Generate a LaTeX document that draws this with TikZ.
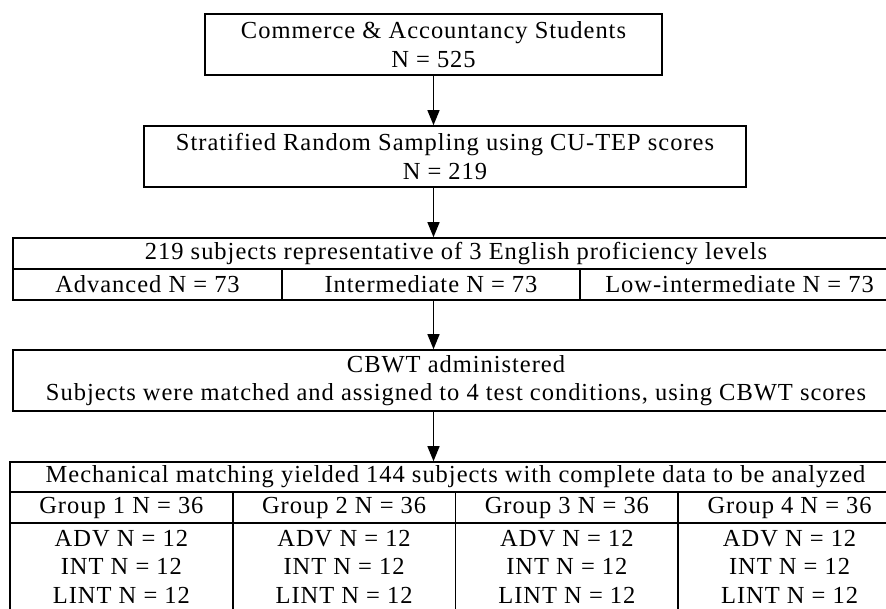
\documentclass[tikz,border=0pt]{standalone}
\usepackage{fontspec}
\setmainfont{Liberation Serif}[LetterSpace=4]
\usepackage{tikz}
\usetikzlibrary{arrows.meta,positioning,calc}

\begin{document}
\begin{tikzpicture}[x=1pt,y=-1pt,
    font=\fontsize{24.5}{28.5}\selectfont,
    box/.style={draw, line width=1.6pt, inner sep=0pt, align=center},
    flow/.style={line width=1.3pt, -{Triangle[length=15pt,width=12pt]}}]
    \useasboundingbox (0,0) rectangle (886,608);
    \clip (0,0) rectangle (886,608);
    \coordinate (spine) at (433.5,0);

    % Population and sampling
    \node[box, minimum width=457pt, minimum height=61pt] (pop) at (433.5,44.5) {Commerce \& Accountancy Students\\N = 525};
    \node[box, minimum width=602pt, minimum height=61pt] (samp) at (445,156.5) {Stratified Random Sampling using CU-TEP scores\\N = 219};

    % Proficiency levels
    \node[box, minimum width=886pt, minimum height=31pt] (lvl) at (456,253.5) {219 subjects representative of 3 English proficiency levels};
    \foreach \x/\w/\txt/\name in {147.5/269/Advanced/adv, 431/298/Intermediate/int, 739.5/319/Low-intermediate/low} {
        \node[box, minimum width=\w pt, minimum height=31pt] (\name) at (\x,284.5) {\txt{} N = 73};
    }

    % CBWT
    \node[box, minimum width=886pt, minimum height=61pt] (cbwt) at (456,380.5) {CBWT administered\\Subjects were matched and assigned to 4 test conditions, using CBWT scores};

    % Groups
    \node[box, minimum width=891pt, minimum height=30pt] (mech) at (455.5,477) {Mechanical matching yielded 144 subjects with complete data to be analyzed};
    \foreach \i/\x in {1/121.4, 2/344.1, 3/566.9, 4/789.6} {
        \node[box, minimum width=222.75pt, minimum height=31pt] (g\i) at (\x,507.5) {Group \i{} N = 36};
        \node[box, minimum width=222.75pt, minimum height=87pt] (s\i) at (\x,566.5) {ADV N = 12\\INT N = 12\\LINT N = 12};
    }

    % Arrows
    \draw[flow] (spine |- pop.south) -- (spine |- samp.north);
    \draw[flow] (spine |- samp.south) -- (spine |- lvl.north);
    \draw[flow] (spine |- int.south) -- (spine |- cbwt.north);
    \draw[flow] (spine |- cbwt.south) -- (spine |- mech.north);
\end{tikzpicture}
\end{document}
